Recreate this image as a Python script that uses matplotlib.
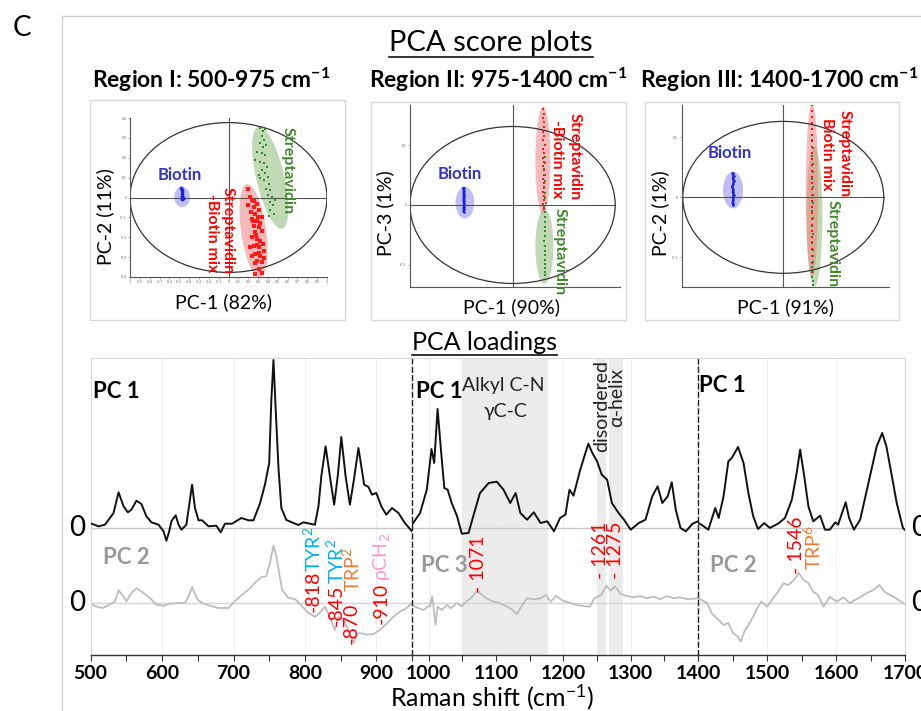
import matplotlib.pyplot as plt
from matplotlib.patches import Ellipse, Rectangle
from matplotlib.lines import Line2D
from matplotlib.transforms import Affine2D

plt.rcParams['font.family'] = ['Lato', 'DejaVu Sans']
plt.rcParams['mathtext.fontset'] = 'custom'
plt.rcParams['mathtext.rm'] = 'Lato'
plt.rcParams['mathtext.it'] = 'Lato:italic'
plt.rcParams['mathtext.bf'] = 'Lato:bold'

# ---------------- score plot data ----------------
r1_titles = ["PC-1 (82%)", "PC-2 (11%)"]
r2_titles = ["PC-1 (90%)", "PC-3 (1%)"]
r3_titles = ["PC-1 (91%)", "PC-2 (1%)"]

r1_blue_x = [-0.48, -0.475, -0.47, -0.475, -0.47, -0.465, -0.47]
r1_blue_y = [0.05, 0.04, 0.025, 0.01, 0.0, -0.005, -0.01]
r1_green_x = [0.322, 0.349, 0.373, 0.339, 0.363, 0.315, 0.349, 0.383, 0.288, 0.339, 0.373,
              0.271, 0.322, 0.363, 0.390, 0.339, 0.373, 0.305, 0.397, 0.356, 0.407, 0.383,
              0.424, 0.397, 0.441, 0.417, 0.451, 0.424, 0.458, 0.407, 0.475, 0.322]
r1_green_y = [0.349, 0.333, 0.344, 0.307, 0.291, 0.273, 0.256, 0.265, 0.231, 0.222, 0.214,
              0.189, 0.180, 0.172, 0.155, 0.138, 0.121, 0.113, 0.104, 0.087, 0.070, 0.045,
              0.036, 0.011, 0.003, -0.023, -0.040, -0.065, -0.082, -0.091, -0.014, 0.096]
r1_red_x = [0.203, 0.220, 0.237, 0.203, 0.254, 0.288, 0.227, 0.271, 0.305, 0.237, 0.288,
            0.339, 0.254, 0.305, 0.271, 0.339, 0.237, 0.288, 0.322, 0.254, 0.305, 0.349,
            0.271, 0.322, 0.356, 0.288, 0.339, 0.237, 0.305, 0.271, 0.339, 0.220, 0.356,
            0.26, 0.30, 0.28, 0.31, 0.25, 0.32, 0.29, 0.27]
r1_red_y = [0.045, 0.003, -0.014, -0.040, -0.048, -0.031, -0.074, -0.082, -0.065, -0.107,
            -0.116, -0.099, -0.141, -0.150, -0.175, -0.167, -0.201, -0.209, -0.217, -0.243,
            -0.251, -0.234, -0.285, -0.294, -0.268, -0.319, -0.327, -0.294, -0.361, -0.387,
            -0.378, -0.251, -0.302, -0.02, -0.10, -0.19, -0.28, -0.12, -0.13, -0.24, -0.33]

r2_blue_x = [-0.478, -0.476, -0.475, -0.474, -0.476, -0.475, -0.474, -0.475, -0.476, -0.475]
r2_blue_y = [0.028, 0.024, 0.019, 0.015, 0.011, 0.006, 0.002, -0.003, -0.007, -0.011]
r2_red_x = [0.300, 0.305, 0.298, 0.310, 0.302, 0.296, 0.308, 0.300, 0.312, 0.297, 0.305,
            0.301, 0.309, 0.296, 0.304, 0.311, 0.299, 0.306, 0.302, 0.297, 0.308, 0.303,
            0.300, 0.306]
r2_red_y = [0.160, 0.152, 0.145, 0.138, 0.130, 0.122, 0.115, 0.108, 0.100, 0.093, 0.086,
            0.079, 0.072, 0.065, 0.058, 0.050, 0.043, 0.036, 0.029, 0.022, 0.015, 0.008,
            0.001, -0.006]
r2_green_x = [0.312, 0.318, 0.309, 0.315, 0.320, 0.311, 0.317, 0.313, 0.321, 0.310, 0.316,
              0.319, 0.312, 0.318, 0.314, 0.320, 0.311, 0.317, 0.315, 0.313, 0.319, 0.316,
              0.312, 0.318, 0.314]
r2_green_y = [0.080, 0.070, 0.060, 0.050, 0.040, 0.030, 0.020, 0.012, 0.004, -0.004, -0.012,
              -0.020, -0.028, -0.036, -0.044, -0.052, -0.060, -0.068, -0.076, -0.084, -0.092,
              -0.099, -0.105, -0.111, -0.117]

r3_blue_x = [-0.505, -0.495, -0.502, -0.490, -0.500, -0.508, -0.497, -0.503, -0.494, -0.501,
             -0.498, -0.505, -0.496]
r3_blue_y = [0.040, 0.036, 0.031, 0.027, 0.022, 0.018, 0.013, 0.009, 0.004, 0.000, -0.004,
             -0.009, -0.013]
r3_red_x = [0.283, 0.286, 0.281, 0.288, 0.284, 0.282, 0.287, 0.285, 0.281, 0.286, 0.284,
            0.288, 0.282, 0.285, 0.287, 0.283, 0.286, 0.281, 0.284, 0.288, 0.283, 0.285,
            0.282, 0.286, 0.284, 0.287, 0.283, 0.285]
r3_red_y = [0.154, 0.144, 0.134, 0.124, 0.114, 0.104, 0.094, 0.084, 0.074, 0.064, 0.054,
            0.044, 0.034, 0.024, 0.014, 0.004, -0.006, -0.016, -0.026, -0.036, -0.046, -0.056,
            -0.066, -0.076, -0.086, -0.098, -0.110, -0.124]
r3_green_x = [0.290, 0.294, 0.288, 0.292, 0.296, 0.289, 0.293, 0.291, 0.295, 0.288, 0.292,
              0.290, 0.294, 0.289, 0.293, 0.291, 0.296, 0.288, 0.292, 0.290, 0.294, 0.291]
r3_green_y = [0.095, 0.082, 0.069, 0.056, 0.043, 0.030, 0.017, 0.004, -0.009, -0.022, -0.035,
              -0.048, -0.061, -0.074, -0.087, -0.098, -0.108, -0.116, -0.124, -0.132, -0.139,
              -0.146]

# ---------------- loadings data (heights above each baseline) ----------------
r1_w = [500, 511, 520, 532, 539, 546, 552, 557, 564, 571, 578, 585, 595, 602, 606, 610, 613,
        619, 623, 627, 634, 642, 646, 651, 656, 665, 676, 682, 688, 698, 711, 721, 728, 737,
        744, 750, 753, 756, 759, 763, 767, 774, 784, 791, 798, 807, 814, 819, 823, 829, 835,
        841, 846, 851, 857, 863, 869, 875, 879, 883, 889, 894, 900, 907, 914, 922, 931, 940,
        950]
r1_pc1 = [4.7, 1.7, 3.3, 15, 35.7, 21.7, 15.7, 18.3, 27.3, 24, 11.7, 5.7, 3.3, -3.3, -12.7,
          -3.3, 6.7, 12.7, 3.3, -1.7, 3.3, 43.3, 20, 7.7, 7.7, 1.7, 2.3, -4.3, 4.3, 4.3, 10,
          7.7, 7.7, 24.3, 43.3, 65, 128, 168, 120, 60, 20, 8, 5, 3, 5.7, 4.3, 3.3, 21.7, 51.7,
          81.7, 51.7, 23.3, 51.7, 91, 51.7, 23.3, 50, 80, 61.7, 43.3, 41, 33.3, 35, 21.7,
          13.3, 20, 15, 5, -3.3]
r1_w2 = [500, 507, 517, 526, 534, 539, 544, 550, 557, 564, 574, 583, 592, 602, 611, 623, 632,
         637, 642, 649, 656, 667, 679, 693, 702, 712, 721, 730, 739, 746, 751, 756, 760, 768,
         777, 786, 796, 805, 814, 821, 828, 835, 842, 847, 854, 861, 868, 874, 880, 887, 896,
         905, 915, 924, 933, 942, 950]
r1_pc2 = [-0.7, -3.3, -5, -1.7, 1.7, 12.7, 8.3, 1.7, 10, 14.7, 10, 5, -1.7, -2.7, -0.7, 0, 0,
          6.7, 16, 4, 0, -2.7, -5, -5, 1.7, 8.3, 13.3, 20, 26, 26.7, 40, 57.3, 46.7, 13.3, 5,
          4, -3.3, -10, -13.7, -10, -3.7, -13.7, -27, -13.7, -17, -27, -40, -30.3, -30.3,
          -31.7, -31, -27, -20.3, -13.7, -8.7, -5.3, 0]

r2_w = [975, 987, 997, 1004, 1008, 1013, 1018, 1023, 1028, 1034, 1042, 1049, 1059, 1066, 1076,
        1089, 1101, 1111, 1121, 1129, 1136, 1146, 1156, 1166, 1176, 1186, 1195, 1203, 1209,
        1215, 1225, 1237, 1243, 1250, 1257, 1265, 1272, 1282, 1290, 1300, 1312, 1322, 1332,
        1340, 1347, 1355, 1361, 1367, 1374, 1382, 1392, 1400]
r2_pc1 = [3.3, 15, 38.3, 79, 65, 119, 78.3, 40, 38.3, 25, 11.7, -5.7, -5, 11.7, 35, 45, 46.3,
          38.3, 25, 35, 15, 8.3, 15.7, 5, 6.7, -3.3, 10, 13.3, 38.3, 32.3, 58.3, 84.3, 75,
          66.7, 53.3, 48.3, 25, 15, 8.3, -1.7, 5, 8.3, 31.7, 41.7, 25, 31.7, 45.7, 18.3, 0,
          -3.3, 4.3, 6.7]
r2_w3 = [975, 985, 992, 998, 1002, 1005, 1010, 1013, 1019, 1027, 1033, 1041, 1049, 1056, 1063,
         1072, 1078, 1085, 1095, 1105, 1115, 1121, 1131, 1139, 1146, 1156, 1166, 1174, 1181,
         1189, 1199, 1209, 1219, 1229, 1239, 1246, 1256, 1264, 1270, 1277, 1284, 1294, 1304,
         1314, 1324, 1334, 1344, 1354, 1364, 1373, 1386, 1400]
r2_pc3 = [-2, -5.3, -7, -3.7, -3, 6.7, -21.7, -3.7, -7, -2, -5.3, 0, -3.3, 1.7, 5, 12.7, 8.3,
          5, 1.7, 0, -3.3, -5.3, -11, -2, 4.7, 3.7, 4.7, 8, 1.3, 7, 2.3, 0.3, -2, -3, -3.7, 4.7,
          8, 17, 12.3, 16.7, 9.7, 7, 5.7, 7, 4.7, 6.3, 3.7, 7, 4.7, 5.7, 3.7, 4.7]

r3_w = [1400, 1405, 1415, 1425, 1430, 1437, 1444, 1449, 1458, 1466, 1473, 1480, 1487, 1496,
        1504, 1516, 1526, 1536, 1543, 1548, 1554, 1560, 1567, 1577, 1584, 1591, 1599, 1603,
        1614, 1619, 1626, 1635, 1647, 1659, 1667, 1673, 1681, 1688, 1697, 1700]
r3_pc1 = [5, 3.3, -1.7, 20, 10, 31.7, 66.7, 70, 81, 65, 35, 11.7, -1, 5, 0, 4.3, 10, 28.3, 55,
          78.3, 51.7, 21.7, 6.7, 12.3, -1.7, -1.7, 5.7, 3.3, 25.7, 10, -1.7, 8.3, 45, 81.7,
          95, 81.7, 51.7, 25, 0, -2]
r3_w2 = [1400, 1405, 1413, 1420, 1430, 1437, 1444, 1451, 1458, 1462, 1467, 1473, 1480, 1487,
         1492, 1500, 1507, 1516, 1524, 1531, 1539, 1546, 1553, 1560, 1567, 1574, 1582, 1591,
         1601, 1611, 1620, 1632, 1644, 1654, 1663, 1670, 1678, 1685, 1692, 1697, 1700]
r3_pc2 = [4.7, 3, 0, -10.3, -17, -22, -20, -30.3, -33.7, -38.7, -28.7, -22, -13.7, -3.7, 1.3,
          -3.7, 3, 11.3, 19.7, 18, 23, 30.3, 23, 20, 11.3, 8, -3.7, 6.3, 1.3, 5.7, 0, 4.7, 9.7,
          13, 18, 11.3, 8, 5.7, 2.3, 0, -1]

tick_major = [[500, 600, 700, 800, 900], [1000, 1100, 1200, 1300], [1400, 1500, 1600, 1700]]
bands = [(1050, 1177), (1249.5, 1264), (1268, 1288)]

RED, BLUE, GREEN = '#ff0000', '#3333cc', '#3f8a2a'
TYR_C, TRP_C, RHO_C = '#00b0f0', '#ed7d31', '#ff99cc'

W, H = 921, 711
fig = plt.figure(figsize=(W / 100, H / 100), dpi=100)


def box(l, t, r, b):
    return [l / W, 1 - b / H, (r - l) / W, (b - t) / H]


def txt(x, y, s, **kw):
    return fig.text(x / W, 1 - y / H, s, **kw)


def fline(xs, ys, **kw):
    fig.add_artist(Line2D([x / W for x in xs], [1 - y / H for y in ys], **kw))


# outer frame and panel letter
fline([62, 62], [16, H], color='#d0d0d0', lw=1)
fline([62, W], [16, 16], color='#d0d0d0', lw=1)
txt(22, 28, "C", fontsize=20, ha='center', va='center')

t_sc = txt(491, 43, "PCA score plots", fontsize=21, ha='center', va='center')
titles = [(211, "Region I: 500-975 cm$^{\\mathbf{-1}}$"),
          (498, "Region II: 975-1400 cm$^{\\mathbf{-1}}$"),
          (779, "Region III: 1400-1700 cm$^{\\mathbf{-1}}$")]
for x, s in titles:
    txt(x, 88, s, fontsize=16.5, fontweight='bold', ha='center', va='baseline')

# score plot boxes
for l, t, r, b in [(90, 100, 345, 320), (371, 102, 626, 320), (645, 102, 899, 320)]:
    fig.add_artist(Rectangle((l / W, 1 - b / H), (r - l) / W, (b - t) / H, fill=False,
                             ec='#d9d9d9', lw=1, transform=fig.transFigure))


def blob(ax, sx, sy, cx, cy, w, h, ang, fc):
    tr = Affine2D().scale(1 / sx, 1 / sy) + ax.transData
    ax.add_patch(Ellipse((cx * sx, cy * sy), w, h, angle=ang, transform=tr,
                         fc=fc, ec='none', alpha=0.55, zorder=1))


def score_axes(rect_px, xlim, ylim, ell_h, yt, xt):
    ax = fig.add_axes(box(*rect_px))
    ax.set_xlim(*xlim)
    ax.set_ylim(*ylim)
    for s in ['top', 'right']:
        ax.spines[s].set_visible(False)
    for s in ['left', 'bottom']:
        ax.spines[s].set_color('#555555')
        ax.spines[s].set_linewidth(0.8)
    ax.set_yticks(yt)
    ax.set_yticklabels([f"{v:g}" for v in yt])
    ax.set_xticks(xt)
    ax.set_xticklabels([f"{v:g}" for v in xt])
    ax.tick_params(labelsize=2.5, length=1.5, width=0.4, colors='#666666', pad=1)
    ax.set_facecolor('none')
    ax.plot([-1, 1], [0, 0], color='#555555', lw=0.8, zorder=2)
    ax.plot([0, 0], list(ylim), color='#555555', lw=0.8, zorder=2)
    ax.add_patch(Ellipse((0, 0), 2, ell_h, fill=False, ec='#333333', lw=0.9, zorder=2))
    return ax


# Region I
sx1, sy1 = 98.5, 198.75
ax = score_axes((130, 118, 327, 277), (-1, 1), (-0.4, 0.4), 0.754,
                [-0.4, -0.3, -0.2, -0.1, 0, 0.1, 0.2, 0.3, 0.4],
                [v / 10 for v in range(-10, 11)])
blob(ax, sx1, sy1, -0.471, 0.0025, 16, 20, 0, '#8c8ce6')
blob(ax, sx1, sy1, 0.424, 0.10, 28, 105, 13, '#8fb878')
blob(ax, sx1, sy1, 0.254, -0.167, 25, 94, 8, '#f28080')
ax.plot(r1_green_x, r1_green_y, 's', color='#2e8b2e', ms=2.0, mew=0, zorder=3)
ax.plot(r1_red_x, r1_red_y, 's', color='#ff1a1a', ms=2.2, mew=0, zorder=3)
ax.plot(r1_blue_x, r1_blue_y, 'o', color='#1f1fe0', ms=2.8, mew=0, zorder=3)

# Region II
sx2, sy2 = 102.5, 600
ax = score_axes((410, 105, 620, 287), (-1, 1.047), (-0.1367, 0.1667), 0.2617,
                [-0.1, 0, 0.1], [])
blob(ax, sx2, sy2, -0.465, 0.004, 18.7, 31.7, 0, '#8c8ce6')
blob(ax, sx2, sy2, 0.31, -0.069, 18, 75, 0, '#8fb878')
blob(ax, sx2, sy2, 0.296, 0.075, 15, 106.7, 0, '#f28080')
ax.plot(r2_green_x, r2_green_y, 's', color='#2e8b2e', ms=2.1, mew=0, zorder=3)
ax.plot(r2_red_x, r2_red_y, 's', color='#ff1a1a', ms=2.1, mew=0, zorder=3)
ax.plot(r2_blue_x, r2_blue_y, '-o', color='#1f1fe0', ms=1.8, lw=1.8, mew=0, zorder=3)

# Region III
sx3, sy3 = 100.5, 600
ax = score_axes((681.7, 105, 889, 286.7), (-1.011, 1.052), (-0.149, 0.154), 0.2533,
                [-0.1, 0, 0.1], [])
blob(ax, sx3, sy3, -0.5, 0.012, 20, 36.7, 0, '#8c8ce6')
blob(ax, sx3, sy3, 0.31, -0.032, 16, 140, 0, '#8fb878')
blob(ax, sx3, sy3, 0.286, 0.012, 12.3, 173, 0, '#f28080')
ax.plot(r3_green_x, r3_green_y, 's', color='#2e8b2e', ms=2.1, mew=0, zorder=3)
ax.plot(r3_red_x, r3_red_y, 's', color='#ff1a1a', ms=2.1, mew=0, zorder=3)
ax.plot(r3_blue_x, r3_blue_y, '-o', color='#1f1fe0', ms=1.8, lw=1.6, mew=0, zorder=3)

# score plot labels
for (x, y), s in zip([(223, 302), (511.7, 307), (785, 307)],
                     [r1_titles[0], r2_titles[0], r3_titles[0]]):
    txt(x, y, s, fontsize=14, ha='center', va='center')
for (x, y), s in zip([(105, 217), (385, 213), (660, 213)],
                     [r1_titles[1], r2_titles[1], r3_titles[1]]):
    txt(x, y, s, fontsize=14, ha='center', va='center', rotation=90)

for x, y in [(180, 175), (460, 174), (730, 153)]:
    txt(x, y, "Biotin", fontsize=12, fontweight='bold', color=BLUE, ha='center', va='center')

vlabels = [(288, 127, "Streptavidin", GREEN), (228, 187, "Streptavidin", RED),
           (212, 194, "-Biotin mix", RED),
           (575, 113, "Streptavidin", RED), (556.7, 120, "-Biotin mix", RED),
           (560, 208, "Streptavidin", GREEN),
           (845, 110, "Streptavidin", RED), (826.7, 118, "Biotin mix", RED),
           (833, 200, "Streptavidin", GREEN)]
for x, y, s, c in vlabels:
    txt(x, y, s, fontsize=11.5, fontweight='bold', color=c, rotation=-90,
        rotation_mode='anchor', ha='left', va='center')

# ---------------- loadings ----------------
BASE1, BASE2 = 127, 52
segs = [((90.7, 412), (500, 950), r1_w, r1_pc1, r1_w2, r1_pc2),
        ((412, 698), (975, 1400), r2_w, r2_pc1, r2_w3, r2_pc3),
        ((698, 905), (1400, 1700), r3_w, r3_pc1, r3_w2, r3_pc2)]
for i, ((xl, xr), lim, w1, p1, w2, p2) in enumerate(segs):
    ax = fig.add_axes(box(xl, 358, xr, 655))
    ax.set_xlim(*lim)
    ax.set_ylim(0, 297)
    ax.set_facecolor('none')
    if i == 1:
        for a, b in bands:
            ax.axvspan(a, b, color='#ebebeb', lw=0, zorder=0)
    for v in tick_major[i]:
        ax.axvline(v, color='#efefef', lw=0.8, zorder=0)
    ax.axhline(BASE1, color='#c8c8c8', lw=1, zorder=1)
    ax.axhline(BASE2, color='#d4d4d4', lw=1, zorder=1)
    ax.plot(w1, [BASE1 + v for v in p1], color='#111111', lw=1.4, zorder=3)
    ax.plot(w2, [BASE2 + v for v in p2], color='#bdbdbd', lw=1.3, zorder=2)
    ax.spines['top'].set_color('#d9d9d9')
    ax.spines['right'].set_visible(i == 2)
    ax.spines['right'].set_color('#d9d9d9')
    ax.spines['bottom'].set_color('#333333')
    ax.spines['bottom'].set_linewidth(1.0)
    if i == 0:
        ax.spines['left'].set_color('#d9d9d9')
    else:
        ax.spines['left'].set_color('#222222')
        ax.spines['left'].set_linestyle((0, (3.5, 2.5)))
        ax.spines['left'].set_linewidth(1.0)
    ax.set_yticks([])
    lo, hi = lim
    start = lo if lo % 50 == 0 else lo + (50 - lo % 50)
    ticks = list(range(int(start), int(hi) + 1, 50))
    ax.set_xticks(ticks)
    ax.set_xticklabels([str(t) if t in tick_major[i] else '' for t in ticks])
    ax.tick_params(axis='x', direction='out', length=4, width=0.8, color='#333333',
                   labelsize=14, pad=3)
    for lab in ax.get_xticklabels():
        lab.set_fontweight('bold')

t_ld = txt(484, 342, "PCA loadings", fontsize=18, ha='center', va='center')
txt(492, 697, "Raman shift (cm$^{-1}$)", fontsize=18, ha='center', va='center')
for y in [528, 603]:
    txt(77, y, "0", fontsize=20, ha='center', va='center')
    txt(911, y, "0", fontsize=20, ha='left', va='center')

txt(93, 391, "PC 1", fontsize=16, fontweight='bold', ha='left', va='center')
txt(416, 391, "PC 1", fontsize=16, fontweight='bold', ha='left', va='center')
txt(699, 386, "PC 1", fontsize=16, fontweight='bold', ha='left', va='center')
for x, y, s in [(103, 558, "PC 2"), (421, 565, "PC 3"), (710, 566, "PC 2")]:
    txt(x, y, s, fontsize=16, fontweight='bold', color='#999999', ha='left', va='center')

txt(503, 385, "Alkyl C-N", fontsize=14, color='#222222', ha='center', va='center')
txt(505, 412, "γC-C", fontsize=14, color='#222222', ha='center', va='center')
txt(601.5, 360, "disordered", fontsize=14, color='#222222', rotation=90,
    rotation_mode='anchor', ha='right', va='center')
txt(616.7, 368, "α-helix", fontsize=14, color='#222222', rotation=90,
    rotation_mode='anchor', ha='right', va='center')

notes = [(313.5, 612, "-818", RED), (313.5, 572, "TYR$^2$", TYR_C),
         (336, 626, "-845", RED), (336, 584, "TYR$^2$", TYR_C),
         (351.7, 644, "-870", RED), (351.7, 592, "TRP$^2$", TRP_C),
         (381, 624, "-910", RED), (381, 581, "ρCH$_2$", RHO_C),
         (478, 593, "- 1071", RED), (601, 579, "- 1261", RED), (615.5, 579, "- 1275", RED),
         (796.7, 574, "- 1546", RED), (813.3, 570, "TRP$^6$", TRP_C)]
for x, y, s, c in notes:
    txt(x, y, s, fontsize=14, color=c, rotation=90, rotation_mode='anchor',
        ha='left', va='center')

# underlines for the two section headings
fig.canvas.draw()
rend = fig.canvas.get_renderer()
for t in [t_sc, t_ld]:
    bb = t.get_window_extent(rend)
    yb = bb.y0 - 1
    fig.add_artist(Line2D([bb.x0 / W, bb.x1 / W], [yb / H, yb / H], color='#111111', lw=1.2))

fig.savefig("out.png", dpi=100)
